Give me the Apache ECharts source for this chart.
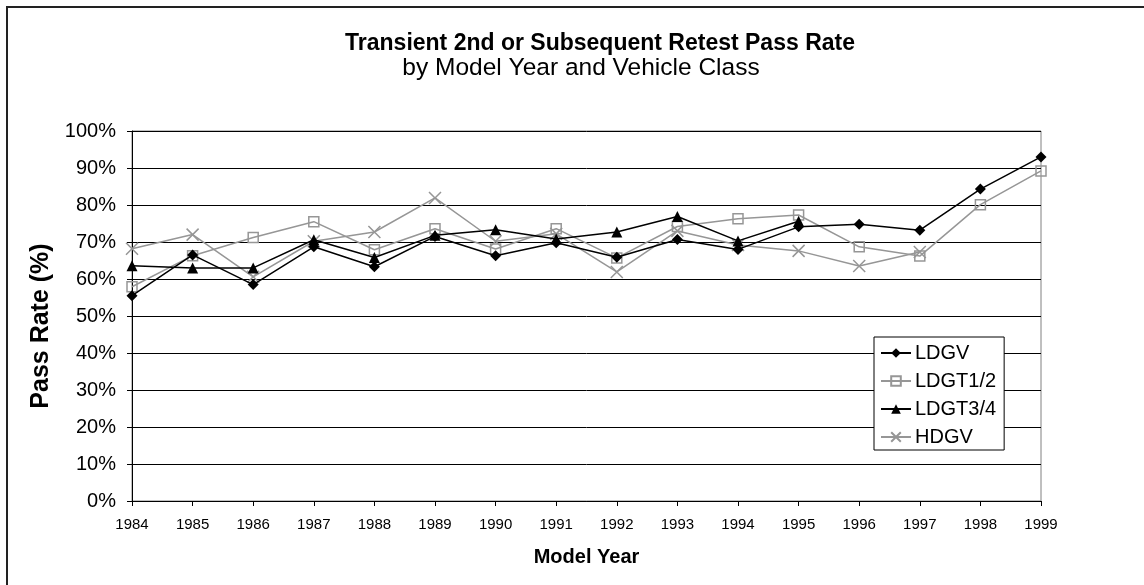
<!DOCTYPE html>
<html>
<head>
<meta charset="utf-8">
<script src="https://cdn.jsdelivr.net/npm/echarts@6/dist/echarts.min.js"></script>
<style>
  html, body { margin: 0; padding: 0; background: #fff; }
  #chart { width: 1144px; height: 585px; }
</style>
</head>
<body>
<div id="chart"></div>
<script>
const years = ['1984', '1985', '1986', '1987', '1988', '1989', '1990', '1991',
  '1992', '1993', '1994', '1995', '1996', '1997', '1998', '1999']

// pass rates in percent
const ldgv = [55.5, 66.5, 58.5, 68.7, 63.3, 71.5, 66.3, 69.8, 65.9, 70.7, 68.0, 74.1, 74.8, 73.2, 84.3, 93.0]
const ldgt12 = [57.9, 66.3, 71.2, 75.5, 67.9, 73.6, 68.1, 73.6, 65.7, 74.2, 76.3, 77.3, 68.7, 66.2, 80.1, 89.2]
const ldgt34 = [63.6, 63.0, 63.0, 70.6, 65.8, 71.8, 73.3, 70.8, 72.7, 76.9, 70.3, 75.6, null, null, null, null]
const hdgv = [68.2, 72.0, 60.6, 70.2, 72.7, 81.9, 70.2, 72.2, 61.9, 73.0, 69.2, 67.6, 63.5, 67.3, null, null]

const yTicks = [0, 10, 20, 30, 40, 50, 60, 70, 80, 90, 100]

const font = 'Arial, "Liberation Sans", sans-serif'
const grey = '#969696'

const chart = echarts.init(document.getElementById('chart'))

const option = {
  backgroundColor: '#fff',
  animation: false,
  textStyle: { fontFamily: font, color: '#000' },
  title: [
    {
      text: 'Transient 2nd or Subsequent Retest Pass Rate',
      left: 595,
      top: 27,
      textAlign: 'center',
      textStyle: { fontFamily: font, fontSize: 23, fontWeight: 'bold', color: '#000' }
    },
    {
      text: 'by Model Year and Vehicle Class',
      left: 576,
      top: 51,
      textAlign: 'center',
      textStyle: { fontFamily: font, fontSize: 24.5, fontWeight: 'normal', color: '#000' }
    }
  ],
  graphic: [{
    type: 'rect',
    shape: { x: 7, y: 7, width: 1300, height: 800 },
    style: { fill: 'none', stroke: '#222', lineWidth: 2 },
    silent: true
  }],
  legend: {
    orient: 'vertical',
    left: 874,
    top: 337,
    padding: [6, 8, 3, 6],
    itemGap: 8,
    itemWidth: 30,
    itemHeight: 12,
    borderColor: '#000',
    borderWidth: 1,
    backgroundColor: '#fff',
    textStyle: { fontFamily: font, fontSize: 20, lineHeight: 20, color: '#000', padding: [0, 0, 0, -1] },
    data: ['LDGV', 'LDGT1/2', 'LDGT3/4', 'HDGV']
  },
  grid: {
    left: 132,
    right: 103,
    top: 131,
    bottom: 84,
    show: true,
    borderColor: '#808080',
    borderWidth: 1
  },
  xAxis: {
    type: 'category',
    data: years,
    boundaryGap: false,
    name: 'Model Year',
    nameLocation: 'middle',
    nameGap: 46,
    nameTextStyle: { fontFamily: font, fontSize: 20, fontWeight: 'bold', color: '#000' },
    axisLine: { lineStyle: { color: '#000', width: 1 } },
    axisTick: { show: true, length: 5, alignWithLabel: true, lineStyle: { color: '#000' } },
    axisLabel: { fontFamily: font, fontSize: 15, color: '#000', margin: 16, interval: 0 },
    splitLine: { show: false }
  },
  yAxis: {
    type: 'value',
    min: yTicks[0],
    max: yTicks[yTicks.length - 1],
    interval: 10,
    name: 'Pass Rate (%)',
    nameLocation: 'middle',
    nameRotate: 90,
    nameGap: 76,
    nameTextStyle: { fontFamily: font, fontSize: 25, fontWeight: 'bold', color: '#000', padding: [0, 20, 0, 0] },
    axisLine: { show: true, lineStyle: { color: '#000', width: 1 } },
    axisTick: { show: true, length: 5, lineStyle: { color: '#000' } },
    axisLabel: { fontFamily: font, fontSize: 20, color: '#000', margin: 16, formatter: '{value}%' },
    splitLine: { show: true, lineStyle: { color: '#000', width: 1 } }
  },
  series: [
    {
      name: 'LDGV',
      type: 'line',
      data: ldgv,
      symbol: 'diamond',
      symbolSize: 11,
      lineStyle: { color: '#000', width: 1.5 },
      itemStyle: { color: '#000' },
      z: 5
    },
    {
      name: 'LDGT1/2',
      type: 'line',
      data: ldgt12,
      symbol: 'rect',
      symbolSize: 10,
      lineStyle: { color: grey, width: 1.5 },
      itemStyle: { color: 'rgba(255,255,255,0)', borderColor: grey, borderWidth: 1.5 },
      z: 3
    },
    {
      name: 'LDGT3/4',
      type: 'line',
      data: ldgt34,
      symbol: 'triangle',
      symbolSize: 11,
      lineStyle: { color: '#000', width: 1.5 },
      itemStyle: { color: '#000' },
      z: 4
    },
    {
      name: 'HDGV',
      type: 'line',
      data: hdgv,
      symbol: 'path://M0,0L10,10M0,10L10,0',
      symbolSize: 12,
      lineStyle: { color: grey, width: 1.5 },
      itemStyle: { color: 'none', borderColor: grey, borderWidth: 1.5 },
      z: 2
    }
  ]
}

chart.setOption(option)
window.addEventListener('resize', () => chart.resize())
</script>
</body>
</html>
